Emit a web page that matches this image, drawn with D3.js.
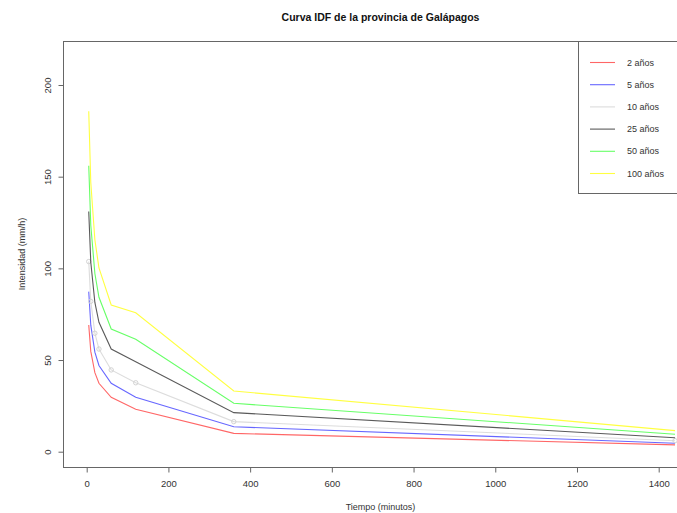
<!DOCTYPE html>
<html>
<head>
<meta charset="utf-8">
<script src="https://cdn.jsdelivr.net/npm/d3@7/dist/d3.min.js"></script>
<style>
  html, body { margin: 0; padding: 0; background: #fff; }
  svg { display: block; font-family: "Liberation Sans", Arial, sans-serif; }
</style>
</head>
<body>
<svg id="chart" width="677" height="513"></svg>
<script>
// ---- data ----
const durations = [5, 10, 20, 30, 60, 120, 360, 1440];
const seriesNames = ["2 años", "5 años", "10 años", "25 años", "50 años", "100 años"];
const seriesColors = ["#ff0000", "#0000ff", "#d3d3d3", "#000000", "#00ff00", "#ffff00"];
const t2   = [69.1, 54.7, 43.1, 37.3, 29.7, 23.1, 10.0, 3.7];
const t5   = [87.3, 69.0, 54.3, 47.0, 37.3, 29.7, 13.6, 4.6];
const t10  = [103.7, 82.0, 64.6, 56.0, 44.6, 37.6, 16.4, 6.0];
const t25  = [131.0, 103.3, 81.4, 70.6, 56.0, 49.0, 21.3, 7.6];
const t50  = [156.0, 123.5, 97.2, 84.2, 66.9, 61.3, 26.4, 9.5];
const t100 = [185.7, 146.8, 115.6, 100.2, 80.0, 75.8, 33.1, 11.5];
const seriesValues = [t2, t5, t10, t25, t50, t100];
const xTicks = [0, 200, 400, 600, 800, 1000, 1200, 1400];
const yTicks = [0, 50, 100, 150, 200];
const title = "Curva IDF de la provincia de Galápagos";
const xTitle = "Tiempo (minutos)";
const yTitle = "Intensidad (mm/h)";

// ---- layout ----
const svg = d3.select("#chart");
const box = { left: 63, right: 698, top: 41, bottom: 467 };
const x = d3.scaleLinear().domain([0, 1400]).range([86.7, 658.7]);
const y = d3.scaleLinear().domain([0, 200]).range([451.7, 85.0]);
const axisColor = "#666";
const opac = [0.6, 0.6, 0.8, 0.65, 0.6, 0.75];

// lines
const line = d3.line().x(d => x(d[0])).y(d => y(d[1]));
seriesValues.forEach((vals, i) => {
  const pts = durations.map((t, j) => [t, vals[j]]);
  svg.append("path")
    .attr("d", line(pts))
    .attr("fill", "none")
    .attr("stroke", seriesColors[i])
    .attr("stroke-width", 1.1)
    .attr("stroke-opacity", opac[i]);
  if (i === 2) {
    svg.selectAll(null).data(pts).enter().append("circle")
      .attr("cx", d => x(d[0])).attr("cy", d => y(d[1]))
      .attr("r", 2.2)
      .attr("fill", "none")
      .attr("stroke", seriesColors[i])
      .attr("stroke-width", 1);
  }
});

// box
svg.append("rect")
  .attr("x", box.left + 0.5).attr("y", box.top + 0.5)
  .attr("width", box.right - box.left).attr("height", box.bottom - box.top)
  .attr("fill", "none").attr("stroke", axisColor).attr("stroke-width", 1);

// x axis
const xAxis = d3.axisBottom(x).tickValues(xTicks).tickSize(5).tickPadding(8).tickFormat(d3.format("d"));
const gx = svg.append("g").attr("transform", `translate(0,${box.bottom + 0.5})`).call(xAxis);
gx.select(".domain").attr("d", `M${x(0)},0H${x(1400)}`).attr("stroke", axisColor);
gx.selectAll(".tick line").attr("stroke", axisColor);
gx.selectAll("text").attr("font-size", 9.5).attr("fill", "#333").attr("font-family", "Liberation Sans, Arial, sans-serif");

// y axis
const yAxis = d3.axisLeft(y).tickValues(yTicks).tickSize(5).tickPadding(4);
const gy = svg.append("g").attr("transform", `translate(${box.left + 0.5},0)`).call(yAxis);
gy.select(".domain").attr("d", `M0,${y(0)}V${y(200)}`).attr("stroke", axisColor);
gy.selectAll(".tick line").attr("stroke", axisColor);
gy.selectAll("text")
  .attr("font-size", 9.5).attr("fill", "#333").attr("font-family", "Liberation Sans, Arial, sans-serif")
  .attr("text-anchor", "middle").attr("x", null)
  .attr("transform", "translate(-16,0) rotate(-90)")
  .attr("dy", "0.32em");

// titles
svg.append("text")
  .attr("x", (box.left + box.right) / 2).attr("y", 21)
  .attr("text-anchor", "middle").attr("font-size", 10.5).attr("font-weight", "bold")
  .attr("fill", "#111").text(title);
svg.append("text")
  .attr("x", (box.left + box.right) / 2).attr("y", 510)
  .attr("text-anchor", "middle").attr("font-size", 9).attr("fill", "#333").text(xTitle);
svg.append("text")
  .attr("transform", `translate(25,${(box.top + box.bottom) / 2}) rotate(-90)`)
  .attr("text-anchor", "middle").attr("font-size", 9).attr("fill", "#333").text(yTitle);

// legend
const lg = svg.append("g");
lg.append("rect")
  .attr("x", 578.5).attr("y", box.top + 0.5)
  .attr("width", 150).attr("height", 152)
  .attr("fill", "#fff").attr("stroke", axisColor);
seriesNames.forEach((name, i) => {
  const yy = 62.5 + i * 22.2;
  lg.append("line").attr("x1", 590).attr("x2", 615).attr("y1", yy).attr("y2", yy)
    .attr("stroke", seriesColors[i]).attr("stroke-width", 1.1)
    .attr("stroke-opacity", opac[i]);
  lg.append("text").attr("x", 627).attr("y", yy).attr("dy", "0.35em")
    .attr("font-size", 9).attr("fill", "#333").text(name);
});
</script>
</body>
</html>
